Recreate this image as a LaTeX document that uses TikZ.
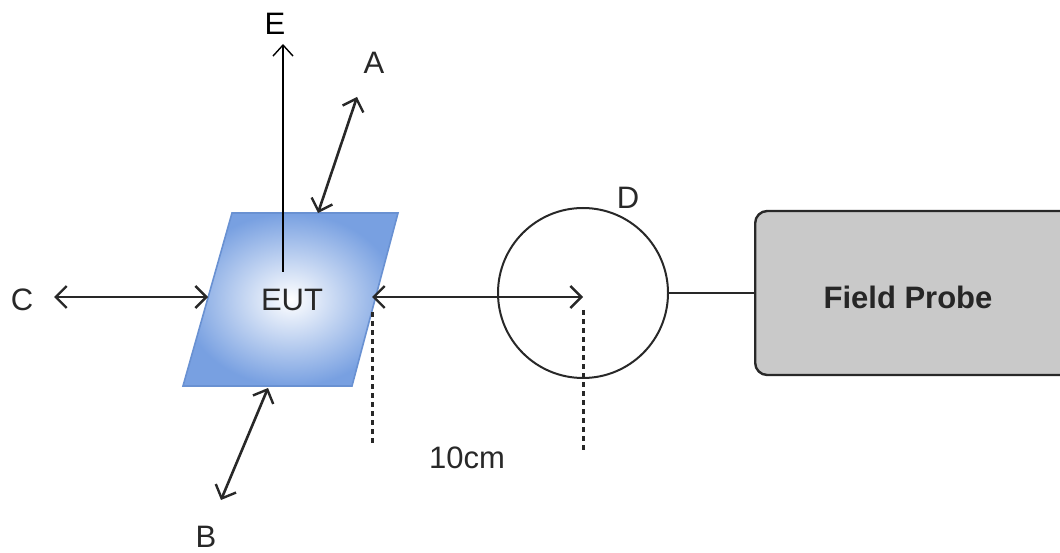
\documentclass[tikz,border=0pt]{standalone}
\usepackage{fontspec}
\setmainfont{Liberation Sans}
\usetikzlibrary{arrows.meta}
\definecolor{eutblue}{RGB}{120,160,225}
\definecolor{eutedge}{RGB}{105,145,210}
\definecolor{boxgray}{RGB}{201,201,201}
\definecolor{ink}{RGB}{40,40,40}
\tikzset{
  lbl/.style={inner sep=0pt, font=\fontsize{31}{31}\selectfont, text=ink},
  dbl/.style={draw=ink, line width=2.6pt, {Straight Barb[length=11pt,width=22pt,line width=2.4pt]}-{Straight Barb[length=11pt,width=22pt,line width=2.4pt]}},
  sgl/.style={draw=black, line width=1.4pt, -{Straight Barb[length=11pt,width=20pt,line width=1.4pt]}},
  meas/.style={draw=ink, line width=3pt, dash pattern=on 5pt off 4pt},
}
\begin{document}
\begin{tikzpicture}[x=1pt,y=-1pt]
\useasboundingbox (0,0) rectangle (1060,553);
% EUT parallelogram
\shade[inner color=white, outer color=eutblue, draw=eutedge, line width=1.6pt]
  (232,213) -- (398,213) -- (352,386) -- (183,386) -- cycle;
\node[lbl] (eut) at (292,300) {EUT};
\coordinate (eutleft) at (208,297);
\coordinate (eutright) at (372,297);
\coordinate (euttop) at (318,213);
\coordinate (eutbot) at (268,388);
\coordinate (eutc) at (283,272);
% E
\node[lbl, text=black] (E) at (275,24) {E};
\coordinate (etip) at (283,44);
\draw[sgl] (eutc) -- (etip);
% A
\node[lbl] (A) at (374,63) {A};
\coordinate (atip) at (357,97);
\draw[dbl] (euttop) -- (atip);
% C
\node[lbl] (C) at (22,300) {C};
\coordinate (ctip) at (54,297);
\draw[dbl] (ctip) -- (eutleft);
% B
\node[lbl] (B) at (206,537) {B};
\coordinate (btip) at (221,500);
\draw[dbl] (eutbot) -- (btip);
% circle D
\node[draw=ink, line width=2pt, circle, minimum size=170pt, inner sep=0pt] (circ) at (583,293) {};
\node[lbl] (D) at (628,198) {D};
\coordinate (cc) at (583,297);
\draw[dbl] (eutright) -- (cc);
% measurement
\coordinate (m1a) at (372,312);
\coordinate (m1b) at (372,446);
\coordinate (m2a) at (583,310);
\coordinate (m2b) at (583,452);
\draw[meas] (m1a) -- (m1b);
\draw[meas] (m2a) -- (m2b);
\node[lbl] (dist) at (467,458) {10cm};
% Field Probe
\node[draw=ink, line width=2.4pt, fill=boxgray, rounded corners=12pt, minimum width=330pt, minimum height=164pt, inner sep=0pt, anchor=west] (fp) at (754,293) {};
\node[lbl, font=\bfseries\fontsize{31}{31}\selectfont, text=black!85] (fpt) at (908,297) {Field Probe};
\draw[draw=ink, line width=2.2pt] (circ.east) -- (fp.west);
\end{tikzpicture}
\end{document}
